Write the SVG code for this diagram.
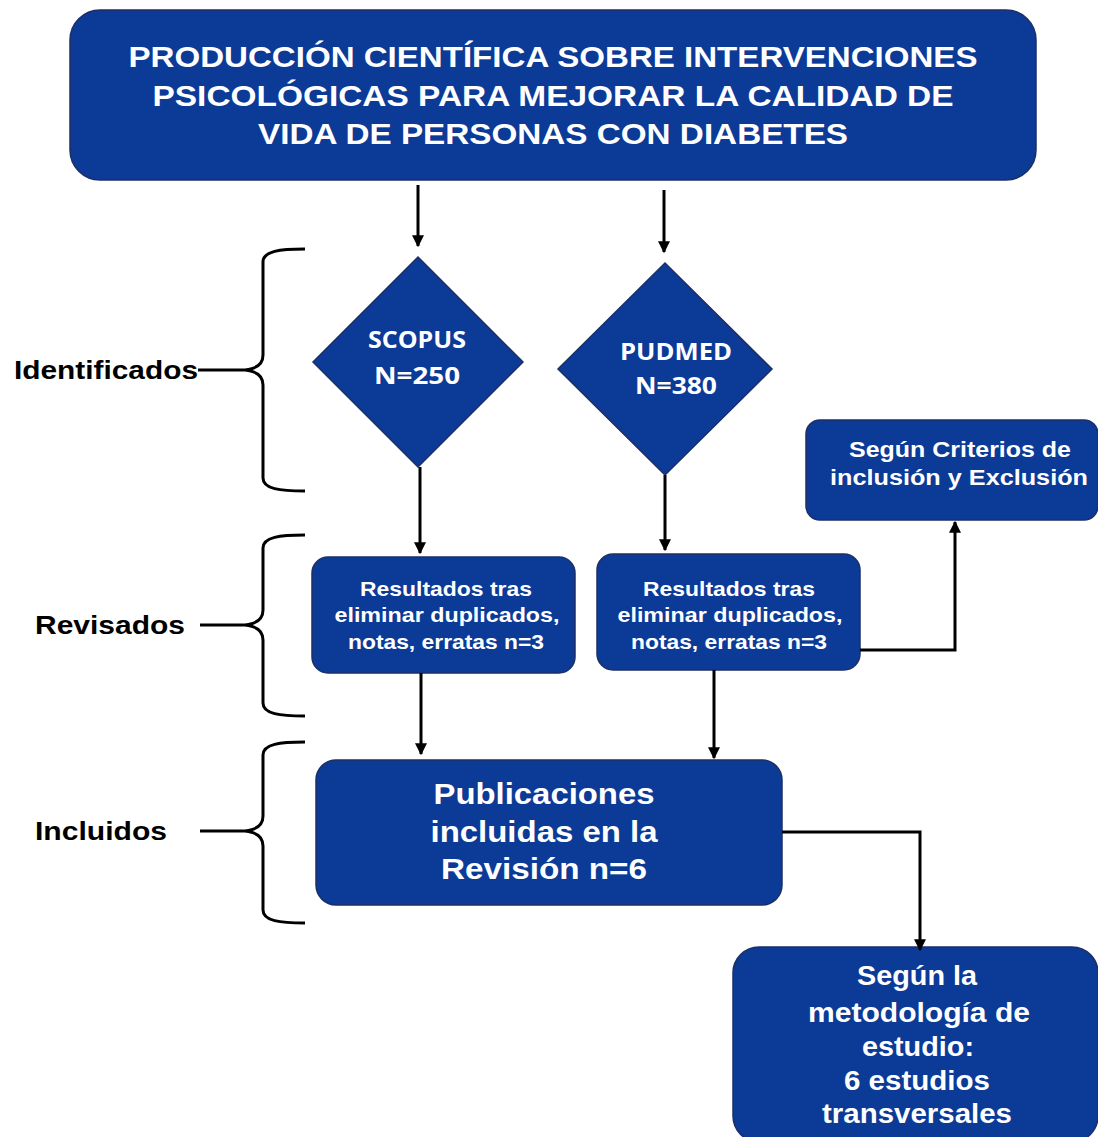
<svg xmlns="http://www.w3.org/2000/svg" width="1098" height="1137" viewBox="0 0 1098 1137">
<defs>
<style>
.box{fill:#0b3a97;stroke:#1c2f66;stroke-width:1.5}
.t{fill:#ffffff;font-family:"Liberation Sans",Arial,sans-serif;font-weight:bold;text-anchor:middle}
.c{fill:#ffffff;font-family:"Open Sans","Noto Sans",sans-serif;font-weight:bold;text-anchor:middle}
.lbl{fill:#000;font-family:"Liberation Sans",Arial,sans-serif;font-weight:bold;font-size:25px}
.ln{fill:none;stroke:#000;stroke-width:3}
.br{fill:none;stroke:#000;stroke-width:3}
</style>
<marker id="ah" viewBox="0 0 10 10" refX="9" refY="5" markerWidth="4" markerHeight="4" orient="auto" markerUnits="strokeWidth">
<path d="M0,0 L10,5 L0,10 z" fill="#000"/>
</marker>
</defs>
<rect width="1098" height="1137" fill="#ffffff"/>

<g id="title">
<rect class="box" x="70" y="10" width="966" height="170" rx="30"/>
<text class="t" font-size="30" x="553" y="67" textLength="849" lengthAdjust="spacingAndGlyphs">PRODUCCIÓN  CIENTÍFICA  SOBRE INTERVENCIONES</text>
<text class="t" font-size="30" x="553" y="106" textLength="801" lengthAdjust="spacingAndGlyphs">PSICOLÓGICAS  PARA MEJORAR  LA CALIDAD  DE</text>
<text class="t" font-size="30" x="553" y="144" textLength="590" lengthAdjust="spacingAndGlyphs">VIDA DE PERSONAS  CON DIABETES</text>
</g>

<g id="scopus">
<polygon class="box" points="418,257 523,362 418,467 313,362" stroke="none"/>
<text class="c" font-size="24" x="417" y="348" textLength="98" lengthAdjust="spacingAndGlyphs">SCOPUS</text>
<text class="c" font-size="24" x="417" y="384" textLength="86" lengthAdjust="spacingAndGlyphs">N=250</text>
</g>

<g id="pudmed">
<polygon class="box" points="665,263 772,369 665,475 558,369" stroke="none"/>
<text class="c" font-size="24" x="676" y="360" textLength="112" lengthAdjust="spacingAndGlyphs">PUDMED</text>
<text class="c" font-size="24" x="676" y="394" textLength="82" lengthAdjust="spacingAndGlyphs">N=380</text>
</g>

<g id="criterios">
<rect class="box" x="806" y="420" width="292" height="100" rx="14"/>
<text class="t" font-size="22" x="960" y="457" textLength="222" lengthAdjust="spacingAndGlyphs">Según Criterios  de</text>
<text class="t" font-size="22" x="959" y="485" textLength="258" lengthAdjust="spacingAndGlyphs">inclusión y Exclusión</text>
</g>

<g id="res1">
<rect class="box" x="312" y="557" width="263" height="116" rx="16"/>
<text class="t" font-size="21" x="446" y="596" textLength="172" lengthAdjust="spacingAndGlyphs">Resultados tras</text>
<text class="t" font-size="21" x="447" y="622" textLength="225" lengthAdjust="spacingAndGlyphs">eliminar duplicados,</text>
<text class="t" font-size="21" x="446" y="649" textLength="196" lengthAdjust="spacingAndGlyphs">notas, erratas n=3</text>
</g>

<g id="res2">
<rect class="box" x="597" y="554" width="263" height="116" rx="16"/>
<text class="t" font-size="21" x="729" y="596" textLength="172" lengthAdjust="spacingAndGlyphs">Resultados tras</text>
<text class="t" font-size="21" x="730" y="622" textLength="225" lengthAdjust="spacingAndGlyphs">eliminar duplicados,</text>
<text class="t" font-size="21" x="729" y="649" textLength="196" lengthAdjust="spacingAndGlyphs">notas, erratas n=3</text>
</g>

<g id="publicaciones">
<rect class="box" x="316" y="760" width="466" height="145" rx="20"/>
<text class="t" font-size="30" x="544" y="804" textLength="221" lengthAdjust="spacingAndGlyphs">Publicaciones</text>
<text class="t" font-size="30" x="544" y="842" textLength="227" lengthAdjust="spacingAndGlyphs">incluidas  en la</text>
<text class="t" font-size="30" x="544" y="879" textLength="206" lengthAdjust="spacingAndGlyphs">Revisión  n=6</text>
</g>

<g id="metodologia">
<rect class="box" x="733" y="947" width="365" height="195" rx="26"/>
<text class="t" font-size="28" x="917" y="985" textLength="120" lengthAdjust="spacingAndGlyphs">Según la</text>
<text class="t" font-size="28" x="919" y="1022" textLength="222" lengthAdjust="spacingAndGlyphs">metodología de</text>
<text class="t" font-size="28" x="918" y="1056" textLength="112" lengthAdjust="spacingAndGlyphs">estudio:</text>
<text class="t" font-size="28" x="917" y="1090" textLength="146" lengthAdjust="spacingAndGlyphs">6 estudios</text>
<text class="t" font-size="28" x="917" y="1123" textLength="190" lengthAdjust="spacingAndGlyphs">transversales</text>
</g>

<g id="labels">
<text class="lbl" x="14" y="379" textLength="184" lengthAdjust="spacingAndGlyphs">Identificados</text>
<text class="lbl" x="35" y="634" textLength="150" lengthAdjust="spacingAndGlyphs">Revisados</text>
<text class="lbl" x="35" y="840" textLength="132" lengthAdjust="spacingAndGlyphs">Incluidos</text>
</g>

<g id="brackets">
<path class="br" d="M198,370 L245,370 M305,249 C280,249 263,251 263,262 L263,355 C263,365 255,369 245,370 C255,371 263,375 263,385 L263,478 C263,489 280,491 305,491"/>
<path class="br" d="M200,625 L245,625 M305,535 C280,535 263,537 263,548 L263,610 C263,620 255,624 245,625 C255,626 263,630 263,640 L263,703 C263,714 280,716 305,716"/>
<path class="br" d="M200,831 L245,831 M305,742 C280,742 263,744 263,755 L263,816 C263,826 255,830 245,831 C255,832 263,836 263,846 L263,910 C263,921 280,923 305,923"/>
</g>

<g id="connectors">
<line class="ln" x1="418" y1="185" x2="418" y2="246" marker-end="url(#ah)"/>
<line class="ln" x1="664" y1="190" x2="664" y2="252" marker-end="url(#ah)"/>
<line class="ln" x1="420" y1="467" x2="420" y2="553" marker-end="url(#ah)"/>
<line class="ln" x1="665" y1="475" x2="665" y2="550" marker-end="url(#ah)"/>
<polyline class="ln" points="860,650 955,650 955,522" marker-end="url(#ah)"/>
<line class="ln" x1="421" y1="673" x2="421" y2="754" marker-end="url(#ah)"/>
<line class="ln" x1="714" y1="670" x2="714" y2="758" marker-end="url(#ah)"/>
<polyline class="ln" points="782,832 920,832 920,950" marker-end="url(#ah)"/>
</g>
</svg>
